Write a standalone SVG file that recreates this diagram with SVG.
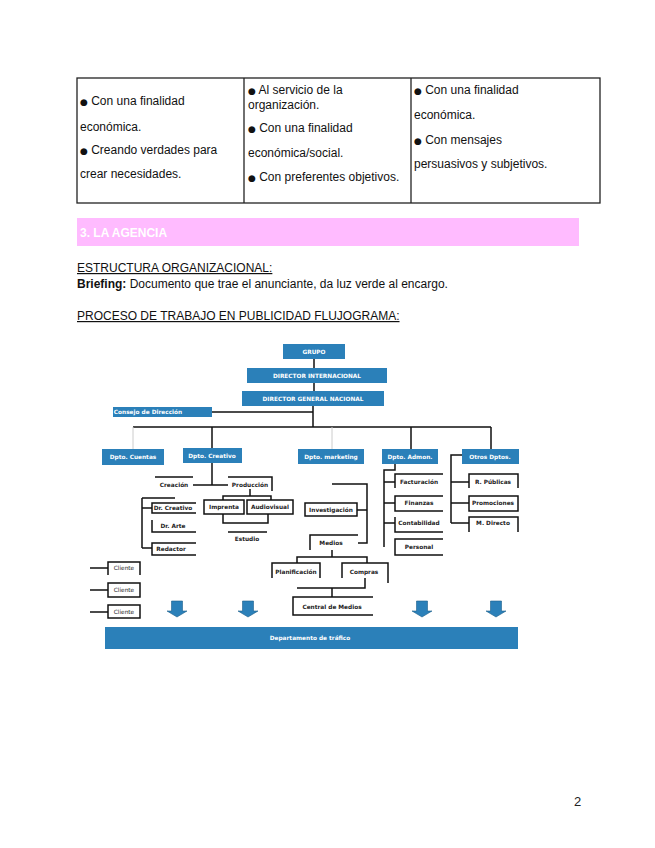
<svg xmlns="http://www.w3.org/2000/svg" width="655" height="848" viewBox="0 0 655 848">
<style>
.t{font-family:"Liberation Sans",Arial,sans-serif;font-size:12px;fill:#111}
.b{font-size:9px;font-family:"DejaVu Sans",sans-serif}
.bx{fill:#2b80b9}
.bl{font-family:"DejaVu Sans",Verdana,sans-serif;font-size:5.8px;font-weight:bold;fill:#fff;text-anchor:middle}
.kl{font-family:"DejaVu Sans",Verdana,sans-serif;font-size:5.8px;font-weight:bold;fill:#222;text-anchor:middle}
.ln{fill:none;stroke:#111;stroke-width:1.5}
.fl{fill:none;stroke:#ccc;stroke-width:1}
.ar{fill:#2b80b9;stroke:#1d5f8c;stroke-width:0.6}
</style>
<rect width="655" height="848" fill="#fff"/>
<g id="table">
<rect x="77" y="78" width="523" height="125" fill="none" stroke="#222" stroke-width="1.3"/>
<line x1="244" y1="78" x2="244" y2="203" stroke="#222" stroke-width="1.3"/>
<line x1="411" y1="78" x2="411" y2="203" stroke="#222" stroke-width="1.3"/>
<text class="t" x="80" y="105"><tspan class="b">●</tspan> Con una finalidad</text>
<text class="t" x="80" y="131">económica.</text>
<text class="t" x="80" y="154"><tspan class="b">●</tspan> Creando verdades para</text>
<text class="t" x="80" y="178">crear necesidades.</text>
<text class="t" x="248" y="94"><tspan class="b">●</tspan> Al servicio de la</text>
<text class="t" x="248" y="109">organización.</text>
<text class="t" x="248" y="132"><tspan class="b">●</tspan> Con una finalidad</text>
<text class="t" x="248" y="157">económica/social.</text>
<text class="t" x="248" y="181"><tspan class="b">●</tspan> Con preferentes objetivos.</text>
<text class="t" x="414" y="94"><tspan class="b">●</tspan> Con una finalidad</text>
<text class="t" x="414" y="119">económica.</text>
<text class="t" x="414" y="144"><tspan class="b">●</tspan> Con mensajes</text>
<text class="t" x="414" y="168">persuasivos y subjetivos.</text>
</g>
<g id="section">
<rect x="77" y="218" width="502" height="28" fill="#ffbbff"/>
<text class="t" x="80" y="237" style="fill:#fff;font-weight:bold">3. LA AGENCIA</text>
<text class="t" x="77" y="272" text-decoration="underline">ESTRUCTURA ORGANIZACIONAL:</text>
<text class="t" x="77" y="288"><tspan font-weight="bold">Briefing:</tspan> Documento que trae el anunciante, da luz verde al encargo.</text>
<text class="t" x="77" y="320" text-decoration="underline">PROCESO DE TRABAJO EN PUBLICIDAD FLUJOGRAMA:</text>
</g>
<g id="connectors">
<path class="ln" d="M314 359V368M314 383V391M313 406V427M212 412H313M133 427H491M212 427V448M411 427V449M491 427V449"/>
<path class="fl" d="M133 427V449M332 427V449"/>
<path class="ln" d="M212 463V485M193 485H228M155 477H193M228 477H272V491M250 489V496M223 500V496H271V500M223 514V523H268V514M228 532H267"/>
<path class="ln" d="M142 498H175M142 498V548M142 508H152M142 548H152"/>
<path class="ln" d="M332 484H367V543H358M357 510H367M332 550V557M297 563V557H367V563M365 578V588H297M332 588V597"/>
<path class="ln" d="M395 464V470H384V547M384 482H395M384 503H395M384 523H395"/>
<path class="ln" d="M462 455H451V523M451 482H469M451 503H469M451 523H469"/>
<path class="ln" d="M90 568H108M90 590H108M90 612H108"/>
</g>
<g id="n-grupo"><rect class="bx" x="283" y="344" width="62" height="15"/><text class="bl" x="314" y="353.5">GRUPO</text></g>
<g id="n-dirint"><rect class="bx" x="247" y="368" width="140" height="15"/><text class="bl" x="317" y="377.5">DIRECTOR INTERNACIONAL</text></g>
<g id="n-dirgen"><rect class="bx" x="242" y="391" width="142" height="15"/><text class="bl" x="313" y="400.5">DIRECTOR GENERAL NACIONAL</text></g>
<g id="n-consejo"><rect class="bx" x="113" y="407" width="99" height="10"/><text class="bl" x="148" y="414">Consejo de Dirección</text></g>
<g id="n-cuentas"><rect class="bx" x="102" y="449" width="62" height="16"/><text class="bl" x="133" y="459">Dpto. Cuentas</text></g>
<g id="n-creativo"><rect class="bx" x="183" y="448" width="59" height="15"/><text class="bl" x="212" y="457.5">Dpto. Creativo</text></g>
<g id="n-marketing"><rect class="bx" x="298" y="449" width="66" height="15"/><text class="bl" x="331" y="458.5">Dpto. marketing</text></g>
<g id="n-admon"><rect class="bx" x="382" y="449" width="56" height="15"/><text class="bl" x="410" y="458.5">Dpto.  Admon.</text></g>
<g id="n-otros"><rect class="bx" x="462" y="449" width="57" height="15"/><text class="bl" x="490" y="458.5">Otros  Dptos.</text></g>
<g id="n-creacion"><text class="kl" x="174" y="487">Creación</text></g>
<g id="n-produccion"><text class="kl" x="250" y="487">Producción</text></g>
<g id="n-imprenta"><rect class="ln" x="204" y="500" width="40" height="14"/><text class="kl" x="224" y="509">Imprenta</text></g>
<g id="n-audiovisual"><rect class="ln" x="247" y="500" width="46" height="14"/><text class="kl" x="270" y="509">Audiovisual</text></g>
<g id="n-estudio"><text class="kl" x="247" y="541">Estudio</text></g>
<g id="n-drcreativo"><path class="ln" d="M196 503H152V513H196"/><text class="kl" x="173" y="510">Dr. Creativo</text></g>
<g id="n-drarte"><path class="ln" d="M152 520V532H196"/><text class="kl" x="173" y="528">Dr. Arte</text></g>
<g id="n-redactor"><path class="ln" d="M196 543H152V555H196"/><text class="kl" x="171" y="551">Redactor</text></g>
<g id="n-investigacion"><rect class="ln" x="305" y="503" width="52" height="13"/><text class="kl" x="331" y="512">Investigación</text></g>
<g id="n-medios"><path class="ln" d="M358 535H310V550"/><text class="kl" x="331" y="545">Medios</text></g>
<g id="n-planificacion"><path class="ln" d="M272 578V563H320V578"/><text class="kl" x="296" y="574">Planificación</text></g>
<g id="n-compras"><path class="ln" d="M342 578V563H388V583"/><text class="kl" x="364" y="574">Compras</text></g>
<g id="n-central"><path class="ln" d="M373 597H293V615H373"/><text class="kl" x="332" y="609">Central de Medios</text></g>
<g id="n-facturacion"><path class="ln" d="M443 474H395V488"/><text class="kl" x="419" y="484">Facturación</text></g>
<g id="n-finanzas"><path class="ln" d="M443 496H395V511H443"/><text class="kl" x="419" y="505">Finanzas</text></g>
<g id="n-contabilidad"><path class="ln" d="M395 517V532H443"/><text class="kl" x="419" y="525">Contabilidad</text></g>
<g id="n-personal"><path class="ln" d="M443 539H395V555H443"/><text class="kl" x="419" y="549">Personal</text></g>
<g id="n-rpublicas"><path class="ln" d="M469 488V474H518V488"/><text class="kl" x="493" y="484">R. Públicas</text></g>
<g id="n-promociones"><rect class="ln" x="469" y="496" width="49" height="15"/><text class="kl" x="493" y="505">Promociones</text></g>
<g id="n-mdirecto"><path class="ln" d="M469 532V517H518V532"/><text class="kl" x="493" y="525">M. Directo</text></g>
<g id="n-cliente1"><path class="ln" d="M108 575V562H140V575"/><text class="kl" x="124" y="570" style="font-weight:normal">Cliente</text></g>
<g id="n-cliente2"><rect class="ln" x="108" y="583" width="32" height="14"/><text class="kl" x="124" y="592" style="font-weight:normal">Cliente</text></g>
<g id="n-cliente3"><rect class="ln" x="108" y="605" width="32" height="13"/><text class="kl" x="124" y="614" style="font-weight:normal">Cliente</text></g>
<g id="arrows">
<path class="ar" d="M171.5 601H182.5V611H187L177 617L167 611H171.5Z"/>
<path class="ar" d="M242.5 601H253.5V611H258L248 617L238 611H242.5Z"/>
<path class="ar" d="M416.5 601H427.5V611H432L422 617L412 611H416.5Z"/>
<path class="ar" d="M490.5 601H501.5V611H506L496 617L486 611H490.5Z"/>
</g>
<g id="n-trafico"><rect class="bx" x="105" y="627" width="413" height="22"/><text class="bl" x="310" y="640">Departamento de tráfico</text></g>
<text x="574" y="806" style="font-family:'Liberation Sans',Arial,sans-serif;font-size:13px;fill:#222">2</text>
</svg>
